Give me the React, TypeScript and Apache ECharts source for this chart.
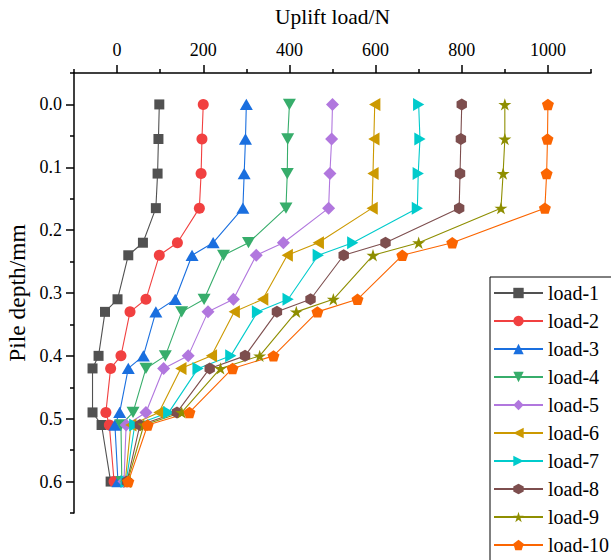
import React, { useEffect, useRef } from "react";
import * as echarts from "echarts";

const depths = [0, 0.055, 0.11, 0.165, 0.22, 0.24, 0.31, 0.33, 0.4, 0.42, 0.49, 0.51, 0.6];

const seriesNames = ["load-1", "load-2", "load-3", "load-4", "load-5", "load-6", "load-7", "load-8", "load-9", "load-10"];

const load1 = [98, 96, 94, 90, 60, 26, 1, -28, -43, -57, -57, -36, -15];
const load2 = [200, 197, 195, 191, 140, 98, 67, 30, 9, -15, -26, -18, -7];
const load3 = [300, 298, 295, 292, 223, 174, 135, 90, 61, 26, 6, -5, 2];
const load4 = [400, 396, 395, 392, 305, 247, 202, 150, 112, 67, 37, 9, 11];
const load5 = [500, 498, 494, 491, 386, 323, 270, 211, 165, 108, 67, 21, 16];
const load6 = [598, 596, 594, 592, 467, 395, 338, 272, 219, 148, 97, 32, 19];
const load7 = [700, 703, 699, 697, 547, 467, 397, 326, 264, 188, 120, 41, 21];
const load8 = [800, 798, 796, 794, 623, 526, 449, 371, 297, 215, 139, 53, 23];
const load9 = [900, 900, 896, 891, 700, 594, 502, 416, 331, 240, 150, 62, 24];
const load10 = [1000, 999, 997, 993, 778, 662, 558, 465, 363, 268, 168, 71, 26];

const allLoads = [load1, load2, load3, load4, load5, load6, load7, load8, load9, load10];

const xLabelValues = [0, 200, 400, 600, 800, 1000];
const yLabelValues = [0, 0.1, 0.2, 0.3, 0.4, 0.5, 0.6];

const colors = ["#515151", "#F14040", "#1A6FDF", "#37AD6B", "#B177DE", "#CC9900", "#00CBCC", "#7D4E4E", "#8E8E00", "#FB6501"];

const symbols = [
  "rect",
  "circle",
  "path://M5,0 L10,8.66 L0,8.66 Z",
  "path://M0,0 L10,0 L5,8.66 Z",
  "diamond",
  "path://M8.66,0 L8.66,10 L0,5 Z",
  "path://M0,0 L0,10 L8.66,5 Z",
  "path://M5,0 L9.33,2.5 L9.33,7.5 L5,10 L0.67,7.5 L0.67,2.5 Z",
  "path://M5,0 L6.117,3.463 L9.755,3.455 L6.807,5.587 L7.939,9.045 L5,6.9 L2.061,9.045 L3.193,5.587 L0.245,3.455 L3.883,3.463 Z",
  "path://M5,0 L9.76,3.45 L7.94,9.05 L2.06,9.05 L0.24,3.45 Z",
];
const symbolSizes = [10, 11, 13, 13, 13, 13, 13, 12, 13, 12];

const FONT = "'Liberation Serif', 'Times New Roman', serif";

export default function App() {
  const ref = useRef<HTMLDivElement>(null);
  useEffect(() => {
    document.body.style.margin = "0";
    if (!ref.current) return;
    const chart = echarts.init(ref.current, null, { renderer: "svg" });
    const series = seriesNames.map((name, i) => ({
      name,
      type: "line",
      data: allLoads[i].map((v, j) => [v, depths[j]]),
      symbol: symbols[i],
      symbolSize: symbolSizes[i],
      symbolKeepAspect: true,
      showAllSymbol: true,
      itemStyle: { color: colors[i] },
      lineStyle: { color: colors[i], width: 1.1 },
      emphasis: { disabled: true },
    }));
    chart.setOption({
      animation: false,
      textStyle: { fontFamily: FONT, color: "#000" },
      grid: { left: 74, right: 20, top: 73, bottom: 47, containLabel: false, outerBoundsMode: "none" },
      legend: {
        orient: "vertical",
        left: 490,
        top: 277,
        width: 140,
        height: 320,
        padding: [6, 12, 6, 3],
        itemWidth: 49,
        itemHeight: 13,
        itemGap: 8,
        backgroundColor: "#fff",
        borderColor: "#000",
        borderWidth: 1,
        borderRadius: 0,
        textStyle: { fontFamily: FONT, fontSize: 20, color: "#000", padding: [0, 0, 0, 0] },
        data: seriesNames,
      },
      xAxis: {
        type: "value",
        position: "top",
        min: -100,
        max: 1100,
        interval: 200,
        name: "Uplift load/N",
        nameLocation: "middle",
        nameGap: 45,
        nameTextStyle: { fontFamily: FONT, fontSize: 21.5, color: "#000" },
        axisLine: { show: true, onZero: false, lineStyle: { color: "#000", width: 1.5 } },
        axisTick: { show: true, length: 4, lineStyle: { color: "#000", width: 1.5 } },
        minorTick: { show: true, splitNumber: 2, length: 8, lineStyle: { color: "#000", width: 1.5 } },
        axisLabel: {
          customValues: xLabelValues,
          margin: 14,
          fontFamily: FONT,
          fontSize: 18,
          color: "#000",
          formatter: (v: number) => String(Math.round(v)),
        },
        splitLine: { show: false },
        minorSplitLine: { show: false },
      },
      yAxis: {
        type: "value",
        position: "left",
        inverse: true,
        min: -0.05,
        max: 0.65,
        interval: 0.1,
        name: "Pile depth/mm",
        nameLocation: "middle",
        nameGap: 38,
        nameTextStyle: { fontFamily: FONT, fontSize: 23.5, color: "#000" },
        axisLine: { show: true, onZero: false, lineStyle: { color: "#000", width: 1.5 } },
        axisTick: { show: true, length: 4, lineStyle: { color: "#000", width: 1.5 } },
        minorTick: { show: true, splitNumber: 2, length: 8, lineStyle: { color: "#000", width: 1.5 } },
        axisLabel: {
          customValues: yLabelValues,
          margin: 12,
          fontFamily: FONT,
          fontSize: 18,
          color: "#000",
          formatter: (v: number) => v.toFixed(1),
        },
        splitLine: { show: false },
        minorSplitLine: { show: false },
      },
      series,
    });
    return () => chart.dispose();
  }, []);
  return <div ref={ref} style={{ width: 611, height: 560 }} />;
}
